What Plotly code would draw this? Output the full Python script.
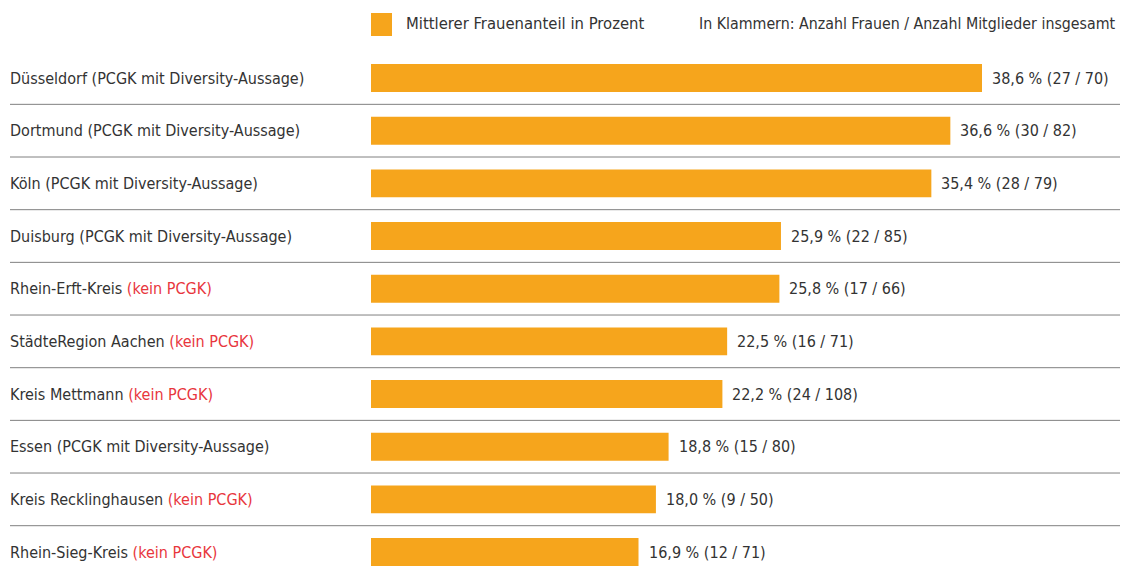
import plotly.graph_objects as go

# ---- data ----
names = ["Düsseldorf", "Dortmund", "Köln", "Duisburg", "Rhein-Erft-Kreis",
         "StädteRegion Aachen", "Kreis Mettmann", "Essen", "Kreis Recklinghausen",
         "Rhein-Sieg-Kreis"]
suffix = ["(PCGK mit Diversity-Aussage)", "(PCGK mit Diversity-Aussage)",
          "(PCGK mit Diversity-Aussage)", "(PCGK mit Diversity-Aussage)",
          "(kein PCGK)", "(kein PCGK)", "(kein PCGK)", "(PCGK mit Diversity-Aussage)",
          "(kein PCGK)", "(kein PCGK)"]
share = [38.6, 36.6, 35.4, 25.9, 25.8, 22.5, 22.2, 18.8, 18.0, 16.9]
women = [27, 30, 28, 22, 17, 16, 24, 15, 9, 12]
members = [70, 82, 79, 85, 66, 71, 108, 80, 50, 71]

legend_label = "Mittlerer Frauenanteil in Prozent"
note = "In Klammern: Anzahl Frauen / Anzahl Mitglieder insgesamt"

BAR = "#F6A51C"
TXT = "#333333"
RED = "#E8363D"
FONT = "Liberation Sans Narrow, DejaVu Sans Condensed, Arial Narrow, sans-serif"

W, H = 1126, 572
ML, MR, MT, MB = 371, 10, 52, 0
pw = W - ML - MR
px_per_unit = 611 / 38.6
xmax = pw / px_per_unit
ph = H - MT - MB
row_px = 52.67
y_top = -(78 - MT) / row_px
y_bot = y_top + ph / row_px


def px_x(p):
    return (p - ML) / pw


def px_y(p):
    return (H - MB - p) / ph


idx = list(range(len(names)))

fig = go.Figure()
fig.add_trace(go.Bar(
    x=share, y=idx, orientation="h", marker=dict(color=BAR, line=dict(width=0)),
    width=0.53, name=legend_label, showlegend=False, hoverinfo="skip"))

annotations = []
for i, (n, s, v, w, m) in enumerate(zip(names, suffix, share, women, members)):
    col = RED if s == "(kein PCGK)" else TXT
    annotations.append(dict(
        x=px_x(8), y=i, xref="paper", yref="y",
        text=f"{n} <span style='color:{col}'>{s}</span>",
        showarrow=False, xanchor="left", yanchor="middle",
        font=dict(family=FONT, size=16, color=TXT)))
    vs = f"{v:.1f}".replace(".", ",")
    annotations.append(dict(
        x=v, y=i, xref="x", yref="y", xshift=8,
        text=f"{vs} % ({w} / {m})", showarrow=False, xanchor="left", yanchor="middle",
        font=dict(family=FONT, size=16, color=TXT)))

annotations.append(dict(x=px_x(404), y=px_y(24), xref="paper", yref="paper", text=legend_label,
                        showarrow=False, xanchor="left", yanchor="middle",
                        font=dict(family=FONT, size=16.5, color=TXT)))
annotations.append(dict(x=px_x(1118), y=px_y(24), xref="paper", yref="paper", text=note,
                        showarrow=False, xanchor="right", yanchor="middle",
                        font=dict(family=FONT, size=15.8, color=TXT)))

shapes = []
for i in range(len(names) - 1):
    shapes.append(dict(type="line", xref="paper", yref="y",
                       x0=px_x(10), x1=px_x(1120), y0=i + 0.5, y1=i + 0.5,
                       line=dict(color="#808080", width=1)))
# legend swatch
shapes.append(dict(type="rect", xref="paper", yref="paper",
                   x0=px_x(371), x1=px_x(392), y0=px_y(36), y1=px_y(13),
                   fillcolor=BAR, line=dict(width=0)))

fig.update_layout(
    width=W, height=H, margin=dict(l=ML, r=MR, t=MT, b=MB),
    paper_bgcolor="white", plot_bgcolor="white",
    xaxis=dict(range=[0, xmax], visible=False, fixedrange=True),
    yaxis=dict(range=[y_bot, y_top], visible=False, fixedrange=True),
    annotations=annotations, shapes=shapes, showlegend=False,
    font=dict(family=FONT, color=TXT))

fig.write_html("out.html", config={"displayModeBar": False},
               post_script="document.body.style.margin='0';")
